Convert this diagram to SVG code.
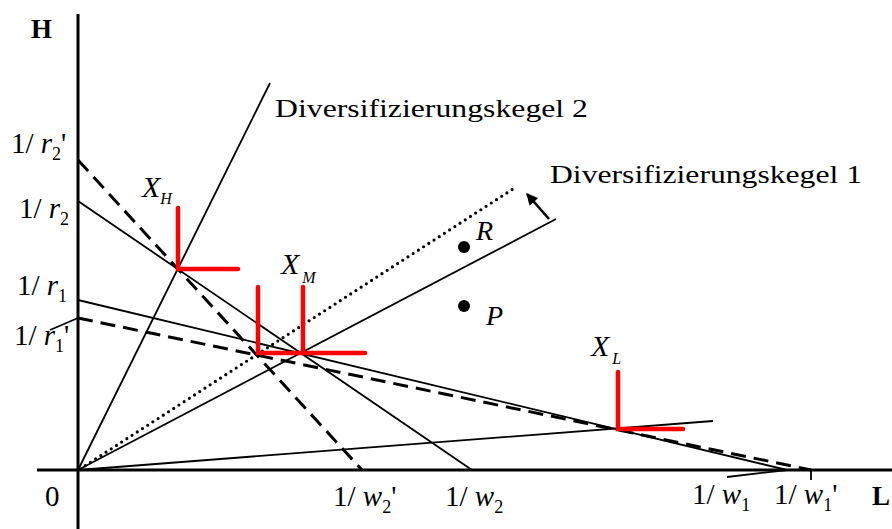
<svg xmlns="http://www.w3.org/2000/svg" width="892" height="529" viewBox="0 0 892 529" font-family="'Liberation Serif', 'Times New Roman', serif">
<defs>
<style>
text{font-family:'Liberation Serif','Times New Roman',serif;fill:#000}
.m{font-size:29px}
.i{font-style:italic}
.s{font-size:18px}
.lab{font-size:26px}
.ax{stroke:#000;stroke-width:3;fill:none}
.ln{stroke:#000;stroke-width:1.8;fill:none}
.ds{stroke:#000;stroke-width:3;fill:none;stroke-dasharray:15 8}
.dt{stroke:#000;stroke-width:3.2;fill:none;stroke-dasharray:0 6.2;stroke-linecap:round}
.red{stroke:#ff0000;stroke-width:4.5;fill:none;stroke-linecap:round}
</style>
<marker id="ah" viewBox="0 0 10 10" refX="9" refY="5" markerWidth="4.5" markerHeight="4.5" orient="auto">
<path d="M0,0 L10,5 L0,10 z" fill="#000"/>
</marker>
</defs>
<rect width="892" height="529" fill="#fff"/>
<g id="axes">
<line class="ax" x1="78" y1="14" x2="78" y2="529"/>
<line class="ax" x1="37" y1="470" x2="892" y2="470"/>
<text x="31" y="38" font-size="27" font-weight="bold">H</text>
<text x="872" y="505" font-size="27" font-weight="bold">L</text>
<text class="m" x="45" y="506">0</text>
</g>
<g id="connectors">
<line class="ln" x1="78" y1="470" x2="270" y2="83"/>
<line class="ln" x1="78" y1="470" x2="556" y2="219"/>
<line class="dt" x1="80" y1="469" x2="516" y2="187"/>
<line class="ln" x1="78" y1="470" x2="713" y2="421"/>
<line class="ln" x1="78" y1="201" x2="472" y2="470"/>
<line class="ds" x1="78" y1="160" x2="362" y2="470"/>
<line class="ln" x1="78" y1="300" x2="787" y2="470"/>
<line class="ds" x1="78" y1="318" x2="811" y2="470"/>
<line class="ln" x1="50" y1="330" x2="78" y2="318"/>
<line class="ln" x1="727" y1="477" x2="787" y2="470"/>
<line class="ln" x1="811" y1="470" x2="811" y2="480"/>
<line stroke="#000" stroke-width="2.6" x1="549" y1="219" x2="527" y2="194" marker-end="url(#ah)"/>
</g>
<g id="isoquants">
<polyline class="red" points="178,208 178,269 238,269"/>
<polyline class="red" points="258,287 258,353 365,353"/>
<line class="red" x1="303" y1="287" x2="303" y2="353"/>
<polyline class="red" points="618,372 618,429 683,429"/>
</g>
<g id="points">
<circle cx="464" cy="247" r="6" fill="#000"/>
<circle cx="464" cy="306" r="6" fill="#000"/>
<text class="i" x="476" y="240" font-size="28">R</text>
<text class="i" x="486" y="325" font-size="28">P</text>
</g>
<g id="labels">
<text class="lab" x="275" y="117" textLength="313" lengthAdjust="spacingAndGlyphs">Diversifizierungskegel 2</text>
<text class="lab" x="550" y="183" textLength="312" lengthAdjust="spacingAndGlyphs">Diversifizierungskegel 1</text>
<text class="i" x="142" y="197" font-size="30">X<tspan font-size="16" dx="0" dy="7">H</tspan></text>
<text class="i" x="281" y="274" font-size="30">X<tspan font-size="16" dx="3" dy="9">M</tspan></text>
<text class="i" x="591" y="356" font-size="30">X<tspan font-size="16" dx="3" dy="8">L</tspan></text>
</g>
<g id="axis-labels">
<text class="m" x="11" y="153">1/ <tspan class="i">r</tspan><tspan class="s" dy="7">2</tspan><tspan dy="-7">'</tspan></text>
<text class="m" x="19" y="218">1/ <tspan class="i">r</tspan><tspan class="s" dy="7">2</tspan></text>
<text class="m" x="17" y="295">1/ <tspan class="i">r</tspan><tspan class="s" dy="7">1</tspan></text>
<text class="m" x="14" y="345">1/ <tspan class="i">r</tspan><tspan class="s" dy="7">1</tspan><tspan dy="-7">'</tspan></text>
<text class="m" x="333" y="506">1/ <tspan class="i">w</tspan><tspan class="s" dy="7">2</tspan><tspan dy="-7">'</tspan></text>
<text class="m" x="445" y="506">1/ <tspan class="i">w</tspan><tspan class="s" dy="7">2</tspan></text>
<text class="m" x="692" y="504">1/ <tspan class="i">w</tspan><tspan class="s" dy="7">1</tspan></text>
<text class="m" x="774" y="504">1/ <tspan class="i">w</tspan><tspan class="s" dy="7">1</tspan><tspan dy="-7">'</tspan></text>
</g>
</svg>
